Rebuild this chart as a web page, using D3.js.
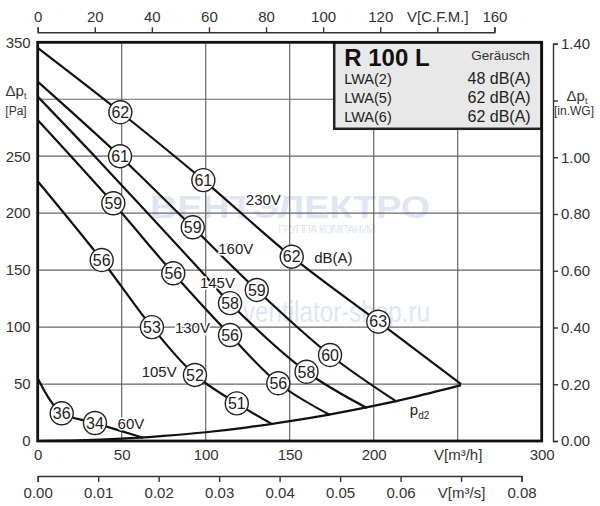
<!DOCTYPE html>
<html>
<head>
<meta charset="utf-8">
<script src="https://cdn.jsdelivr.net/npm/d3@7"></script>
<style>
  body { margin: 0; background: #fff; }
  svg { font-family: "Liberation Sans", Arial, sans-serif; }
</style>
</head>
<body>
<div id="chart"></div>
<script>
// axis ticks and labels
const flowTicks = [0, 50, 100, 150, 200, 250, 300];
const flowLabels = ["0", "50", "100", "150", "200", "V[m³/h]", "300"];
const pressTicks = [0, 50, 100, 150, 200, 250, 300, 350];
const pressLabels = ["0", "50", "100", "150", "200", "250", "", "350"];
const cfmTicks = [0, 20, 40, 60, 80, 100, 120, 140, 160];
const cfmLabels = ["0", "20", "40", "60", "80", "100", "120", "V[C.F.M.]", "160"];
const m3sTicks = [0, 0.01, 0.02, 0.03, 0.04, 0.05, 0.06, 0.07, 0.08];
const m3sLabels = ["0.00", "0.01", "0.02", "0.03", "0.04", "0.05", "0.06", "V[m³/s]", "0.08"];
const wgTicks = [0, 0.2, 0.4, 0.6, 0.8, 1.0, 1.2, 1.4];
const wgLabels = ["0.00", "0.20", "0.40", "0.60", "0.80", "1.00", "", "1.40"];

// fan curves, one row per voltage: flow m3/h, pressure Pa, noise dB(A) at the point
const voltages = ["230V", "160V", "145V", "130V", "105V", "60V"];
const curveFlow = [
  [0, 49.2, 98.6, 151.2, 202.7, 252],
  [0, 49, 92.3, 130.4, 174, 213.7],
  [0, 37.1, 97.6, 114.5, 160, 196],
  [0, 45, 80.7, 114.5, 143.2, 174],
  [0, 38.1, 68, 93.6, 118.5, 139.3],
  [0, 7.3, 14.3, 34.1, 62.7]
];
const curvePress = [
  [345, 288.6, 229, 161.8, 104.7, 50],
  [315.5, 250, 187.6, 132.6, 75.5, 34.5],
  [302.3, 245, 148.6, 121, 60.8, 29],
  [281.8, 208.7, 147.2, 93, 50.7, 22.8],
  [228, 158.9, 100, 58, 33, 15],
  [55, 36, 24.3, 15.8, 2.8]
];
const curveDb = [
  [null, 62, 61, 62, 63, null],
  [null, 61, 59, 59, 60, null],
  [null, null, null, 58, 58, null],
  [null, 59, 56, 56, 56, null],
  [null, 56, 53, 52, 51, null],
  [null, null, 36, 34, null]
];
// where the voltage names sit
const voltLabelFlow = [134.3, 117.9, 107, 92.1, 72.3, 55.5];
const voltLabelPress = [211.6, 169.2, 139.2, 99.6, 60.8, 15.5];

// dynamic pressure pd2
const pd2Flow = [0, 25, 50, 75, 100, 125, 150, 175, 200, 225, 252];
const pd2Press = [0, 0.5, 2, 4.5, 7.7, 12, 17.4, 23.6, 30.8, 39, 49];

// noise table
const noiseRows = ["LWA(2)", "LWA(5)", "LWA(6)"];
const noiseValues = ["48 dB(A)", "62 dB(A)", "62 dB(A)"];

const W = 600, H = 506;
const svg = d3.select('#chart').append('svg')
  .attr('width', W).attr('height', H)
  .attr('viewBox', `0 0 ${W} ${H}`);

const x = d3.scaleLinear().domain([0, 300]).range([37.7, 541.7]);
const y = d3.scaleLinear().domain([0, 350]).range([441, 42.3]);
const xCfm = d3.scaleLinear().domain([0, 160]).range([x(0), x(160 * 1.699)]);
const xM3s = d3.scaleLinear().domain([0, 0.08]).range([x(0), x(0.08 * 3600)]);
const yWg = d3.scaleLinear().domain([0, 1.4]).range([y(0), y(1.4 * 249.09)]);

// watermark (faint)
const wm = svg.append('g').attr('fill', '#dfe5f4');
wm.append('text').attr('x', 150).attr('y', 218).attr('font-size', 32).attr('font-weight', 'bold')
  .attr('textLength', 280).attr('lengthAdjust', 'spacingAndGlyphs').text('ВЕНТЭЛЕКТРО');
wm.append('text').attr('x', 278).attr('y', 233).attr('font-size', 11)
  .attr('textLength', 98).text('ГРУППА КОМПАНИЙ');
wm.append('text').attr('x', 243).attr('y', 322).attr('font-size', 30)
  .attr('textLength', 187).attr('lengthAdjust', 'spacingAndGlyphs').text('ventilator-shop.ru');

// grid
const grid = svg.append('g').attr('stroke', '#666').attr('stroke-width', 1.2);
grid.selectAll('.gx').data([50, 100, 150, 200, 250]).join('line')
  .attr('x1', d => x(d)).attr('x2', d => x(d)).attr('y1', y(0)).attr('y2', y(350));
grid.selectAll('.gy').data([50, 100, 150, 200, 250, 300]).join('line')
  .attr('x1', x(0)).attr('x2', x(300)).attr('y1', d => y(d)).attr('y2', d => y(d));

// legend box
const lx = x(176.5), ly = y(350), lw = x(300) - lx, lh = 86.5;
const leg = svg.append('g');
leg.append('rect').attr('x', lx).attr('y', ly).attr('width', lw).attr('height', lh)
  .attr('fill', '#e8e8e8').attr('stroke', '#222').attr('stroke-width', 2.5);
leg.append('text').attr('x', lx + 10).attr('y', ly + 24).attr('font-size', 24)
  .attr('font-weight', 'bold').attr('fill', '#111').text('R 100 L');
leg.append('text').attr('x', lx + lw - 12).attr('y', ly + 18).attr('font-size', 13.5)
  .attr('text-anchor', 'end').attr('fill', '#333').text('Geräusch');
noiseRows.forEach((r, i) => {
  leg.append('text').attr('x', lx + 10).attr('y', ly + 42 + i * 19).attr('font-size', 14.5)
    .attr('fill', '#222').text(r);
  leg.append('text').attr('x', lx + lw - 11).attr('y', ly + 42 + i * 19).attr('font-size', 16)
    .attr('text-anchor', 'end').attr('fill', '#222').text(noiseValues[i]);
});

// curves
const line = d3.line().x(d => x(d[0])).y(d => y(d[1])).curve(d3.curveCatmullRom.alpha(0.5));
const curves = svg.append('g').attr('fill', 'none').attr('stroke', '#111').attr('stroke-width', 2.2);
voltages.forEach((v, i) => {
  curves.append('path').attr('d', line(d3.zip(curveFlow[i], curvePress[i])));
});
curves.append('path').attr('d', line(d3.zip(pd2Flow, pd2Press)));

// voltage names
const halo = sel => sel.attr('stroke', '#fff').attr('stroke-width', 3).attr('paint-order', 'stroke')
  .attr('fill', '#222').attr('font-size', 15).attr('text-anchor', 'middle').attr('dy', '0.36em');
voltages.forEach((v, i) => {
  svg.append('text').attr('x', x(voltLabelFlow[i])).attr('y', y(voltLabelPress[i])).call(halo).text(v);
});
svg.append('text').attr('x', x(176)).attr('y', y(160.7)).call(halo).text('dB(A)');
const pd = svg.append('text').attr('x', x(221.5)).attr('y', y(22.5)).attr('font-size', 15).attr('fill', '#222');
pd.append('tspan').text('p');
pd.append('tspan').attr('font-size', 10).attr('dy', 4).text('d2');

// noise circles on the curves
const marks = [];
voltages.forEach((v, i) => curveDb[i].forEach((db, j) => {
  if (db !== null) marks.push({ f: curveFlow[i][j], p: curvePress[i][j], db });
}));
const mk = svg.append('g').selectAll('g').data(marks).join('g')
  .attr('transform', d => `translate(${x(d.f)},${y(d.p)})`);
mk.append('circle').attr('r', 11.5).attr('fill', '#fff').attr('stroke', '#222').attr('stroke-width', 1.4);
mk.append('text').attr('text-anchor', 'middle').attr('dy', '0.36em').attr('font-size', 16)
  .attr('fill', '#222').text(d => d.db);

// plot border
svg.append('rect').attr('x', x(0)).attr('y', y(350)).attr('width', x(300) - x(0))
  .attr('height', y(0) - y(350)).attr('fill', 'none').attr('stroke', '#111').attr('stroke-width', 2.8);

// axes
function styleAxis(g) {
  g.selectAll('path,line').attr('stroke', '#333').attr('stroke-width', 1.4);
  g.selectAll('text').attr('font-size', 15).attr('fill', '#333')
    .attr('font-family', '"Liberation Sans", Arial, sans-serif');
}
svg.append('g').attr('transform', 'translate(0,32.3)')
  .call(d3.axisTop(xCfm).tickValues(cfmTicks).tickFormat((d, i) => cfmLabels[i]).tickSize(5).tickPadding(5))
  .call(styleAxis);
svg.append('g').attr('transform', `translate(0,${y(0)})`)
  .call(d3.axisBottom(x).tickValues(flowTicks).tickFormat((d, i) => flowLabels[i]).tickSize(0).tickPadding(8))
  .call(styleAxis).call(g => g.select('.domain').remove());
svg.append('g').attr('transform', 'translate(0,476)')
  .call(d3.axisBottom(xM3s).tickValues(m3sTicks).tickFormat((d, i) => m3sLabels[i]).tickSize(6).tickPadding(5))
  .call(styleAxis);
svg.append('g').attr('transform', `translate(${x(0)},0)`)
  .call(d3.axisLeft(y).tickValues(pressTicks).tickFormat((d, i) => pressLabels[i]).tickSize(0).tickPadding(7))
  .call(styleAxis).call(g => g.select('.domain').remove());
svg.append('g').attr('transform', 'translate(553,0)')
  .call(d3.axisRight(yWg).tickValues(wgTicks).tickFormat((d, i) => wgLabels[i]).tickSize(5).tickPadding(3))
  .call(styleAxis);

// axis titles
const tl = svg.append('text').attr('x', 16).attr('y', 96).attr('text-anchor', 'middle')
  .attr('font-size', 15).attr('fill', '#333');
tl.append('tspan').text('Δp');
tl.append('tspan').attr('font-size', 9).attr('dy', 3).text('t');
svg.append('text').attr('x', 16).attr('y', 115).attr('text-anchor', 'middle')
  .attr('font-size', 12).attr('fill', '#333').text('[Pa]');
const tr = svg.append('text').attr('x', 577).attr('y', 101).attr('text-anchor', 'middle')
  .attr('font-size', 15).attr('fill', '#333');
tr.append('tspan').text('Δp');
tr.append('tspan').attr('font-size', 9).attr('dy', 3).text('t');
svg.append('text').attr('x', 574).attr('y', 115).attr('text-anchor', 'middle')
  .attr('font-size', 12).attr('fill', '#333').text('[in.WG]');
</script>
</body>
</html>
